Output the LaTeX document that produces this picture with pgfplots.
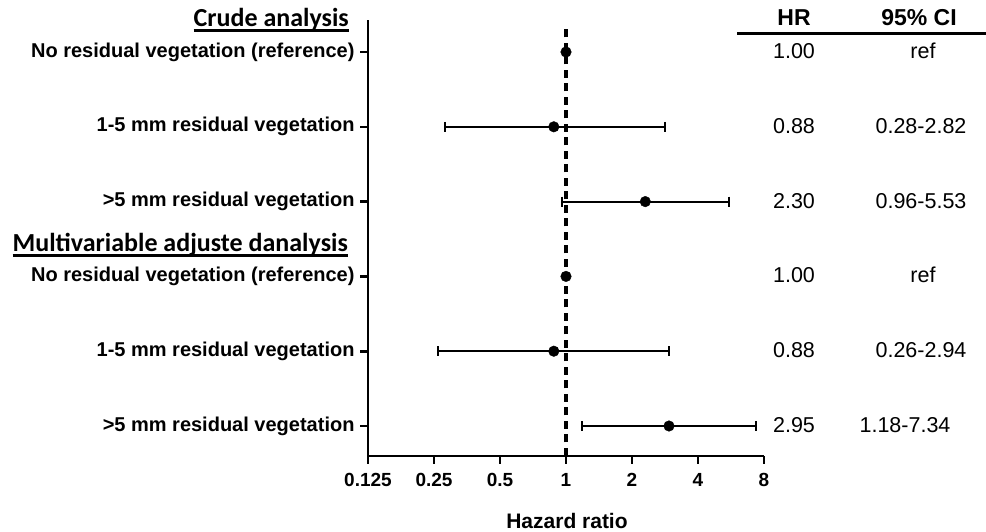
\documentclass[border=0pt]{standalone}
\usepackage{pgfplots}
\pgfplotsset{compat=1.18}
\usepackage{fontspec}
\setmainfont{Liberation Sans}
\newfontfamily\headfont{Carlito}
\newcommand\ul[1]{\setbox0=\hbox{#1}\leavevmode\rlap{\rule[-5.3bp]{\wd0}{2.4bp}}\box0}
\begin{document}
\begin{tikzpicture}
\useasboundingbox (0,0) rectangle (986bp,532bp);
\begin{axis}[
  at={(368bp,76bp)}, anchor=south west,
  scale only axis, width=396bp, height=436bp,
  xmode=log, log basis x=2, xmin=0.125, xmax=8,
  ymin=0.599, ymax=6.428,
  axis x line*=bottom, axis y line*=left,
  axis line style={line width=2.4bp, black},
  xtick={0.125,0.25,0.5,1,2,4,8},
  xticklabels={0.125,0.25,0.5,1,2,4,8},
  minor xtick={}, minor ytick={},
  ytick={1,2,3,4,5,6},
  yticklabels={>5 mm residual vegetation,1-5 mm residual vegetation,No residual vegetation (reference),>5 mm residual vegetation,1-5 mm residual vegetation,No residual vegetation (reference)},
  tick align=outside, major tick length=8bp,
  every tick/.append style={line width=2.6bp, black},
  major tick style={line width=2.6bp, black},
  x tick label style={font=\fontsize{19bp}{22bp}\selectfont\bfseries, yshift=-6bp},
  y tick label style={font=\fontsize{20bp}{23bp}\selectfont\bfseries, xshift=-2bp},
  clip=false,
]
% reference line at HR = 1
\addplot[line width=3.5bp, dash pattern=on 8bp off 5.5bp] coordinates {(1,0.599) (1,6.36)};
% confidence intervals
\addplot[line width=2.2bp, mark=|, mark size=5bp, mark options={solid, line width=2.2bp}] coordinates {(0.28,5) (2.82,5)};
\addplot[line width=2.2bp, mark=|, mark size=5bp, mark options={solid, line width=2.2bp}] coordinates {(0.96,4) (5.53,4)};
\addplot[line width=2.2bp, mark=|, mark size=5bp, mark options={solid, line width=2.2bp}] coordinates {(0.26,2) (2.94,2)};
\addplot[line width=2.2bp, mark=|, mark size=5bp, mark options={solid, line width=2.2bp}] coordinates {(1.18,1) (7.34,1)};
% hazard ratios
\addplot[only marks, mark=*, mark size=5.3bp, black] coordinates {(1,6) (0.88,5) (2.30,4) (1,3) (0.88,2) (2.95,1)};
\end{axis}
% headings
\node[anchor=base east, inner sep=0pt] at (349bp,505.5bp) {\headfont\fontsize{26bp}{30bp}\selectfont\bfseries\ul{Crude analysis}};
\node[anchor=base east, inner sep=0pt] at (348bp,280.5bp) {\headfont\fontsize{26bp}{30bp}\selectfont\bfseries\ul{Multivariable adjuste danalysis}};
% table header
\node[anchor=base, inner sep=0pt] at (794bp,506bp) {\fontsize{23bp}{27bp}\selectfont\bfseries HR};
\node[anchor=base, inner sep=0pt] at (919bp,506bp) {\fontsize{23bp}{27bp}\selectfont\bfseries 95\% CI};
\draw[line width=3bp] (737bp,498bp) -- (986bp,498bp);
% table values
\begin{scope}[every node/.style={anchor=base, inner sep=0pt, font=\fontsize{21.5bp}{25bp}\selectfont}]
\node at (794bp,473bp) {1.00};
\node at (923bp,473bp) {ref};
\node at (794bp,398bp) {0.88};
\node at (921bp,398bp) {0.28-2.82};
\node at (794bp,323bp) {2.30};
\node at (921bp,323bp) {0.96-5.53};
\node at (794bp,249bp) {1.00};
\node at (923bp,249bp) {ref};
\node at (794bp,174bp) {0.88};
\node at (921bp,174bp) {0.26-2.94};
\node at (794bp,99bp) {2.95};
\node at (905bp,99bp) {1.18-7.34};
\end{scope}
% axis title
\node[anchor=base, inner sep=0pt] at (567bp,4bp) {\fontsize{21bp}{25bp}\selectfont\bfseries Hazard ratio};
\end{tikzpicture}
\end{document}
